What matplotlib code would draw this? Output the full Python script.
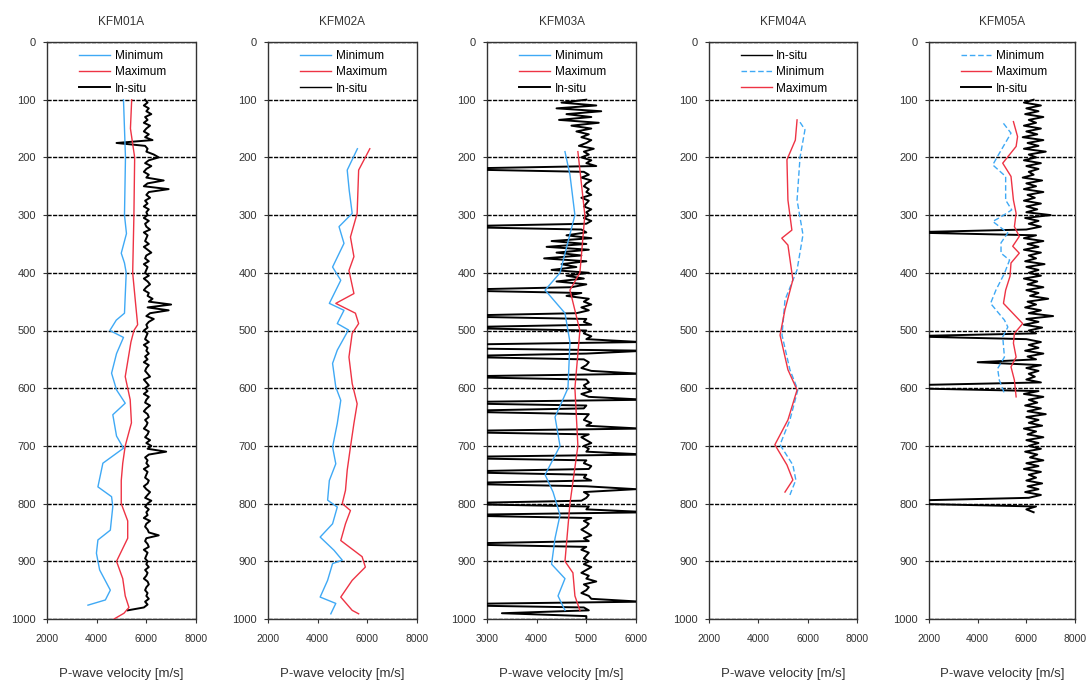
import numpy as np
import matplotlib
matplotlib.use("Agg")
import matplotlib.pyplot as plt

plt.rcParams['font.family'] = ['Liberation Sans', 'DejaVu Sans']

# ---- data ----
titles = ["KFM01A", "KFM02A", "KFM03A", "KFM04A", "KFM05A"]

# KFM01A
k1_min_d = [100, 200, 300, 332, 366, 383, 400, 470, 482, 500, 512, 540, 574, 603, 626, 646,
            683, 704, 730, 771, 788, 805, 846, 863, 886, 915, 950, 967, 976]
k1_min_v = [5080, 5160, 5120, 5200, 4990, 5120, 5190, 5120, 4790, 4530, 5080, 4800, 4600, 4800,
            5150, 4650, 4800, 5080, 4250, 4050, 4600, 4650, 4550, 4050, 3990, 4120, 4550, 4350, 3650]
k1_max_d = [100, 150, 200, 300, 400, 450, 490, 500, 520, 580, 620, 660, 700, 730, 760, 800,
            830, 860, 900, 930, 960, 980, 990, 1000]
k1_max_v = [5410, 5360, 5530, 5500, 5450, 5560, 5650, 5500, 5380, 5150, 5350, 5400, 5150, 5050,
            4990, 4990, 5250, 5250, 4800, 5050, 5150, 5300, 5100, 4700]
k1_ins_v = [5950, 6050, 5900, 6100, 6000, 6200, 5950, 6050, 5900, 6150,
            6000, 5900, 6100, 5950, 6250, 4800, 5950, 6050, 6000, 6300,
            6500, 6100, 5950, 6200, 6000, 5900, 6100, 6000, 6700, 6050,
            5900, 6900, 6100, 6000, 6150, 5950, 6050, 5900, 6100, 6000,
            6050, 5900, 6100, 5950, 6000, 6150, 5900, 6050, 6000, 5950,
            6100, 5900, 6050, 6200, 6000, 5950, 6100, 5900, 6050, 6000,
            5950, 6100, 5900, 6050, 6150, 6000, 5900, 6100, 6050, 6250,
            6100, 7000, 6050, 6900, 6150, 6000, 6300, 6100, 6000, 6050,
            5900, 6050, 6000, 5950, 6100, 5900, 6050, 6000, 6100, 5950,
            6050, 5900, 6100, 6000, 5950, 6050, 6150, 5900, 6000, 6100,
            5950, 6050, 5900, 6100, 6000, 5950, 6150, 6000, 5900, 6050,
            6100, 5950, 6050, 6000, 5900, 6100, 6050, 5950, 6150, 6000,
            6200, 6050, 6800, 6100, 5950, 6050, 6000, 6100, 5900, 6050,
            6000, 5950, 6100, 6050, 5900, 6000, 6150, 6050, 5950, 6200,
            6050, 5950, 6100, 6000, 6050, 5900, 6150, 6000, 5950, 6050,
            6100, 6500, 6000, 5950, 6050, 6100, 5900, 6050, 6000, 5950,
            6050, 6000, 6100, 5950, 6050, 6000, 5900, 6050, 6100, 6000,
            5950, 6050, 6000, 6100, 5950, 6050, 5900, 5250]

# KFM02A
k2_min_d = [185, 222, 257, 297, 320, 349, 390, 413, 453, 465, 488, 499, 534, 557, 598, 621,
            661, 702, 731, 760, 794, 806, 835, 858, 881, 898, 904, 933, 962, 973, 991]
k2_min_v = [5600, 5190, 5270, 5390, 4860, 5060, 4600, 4930, 4470, 5060, 4790, 5240, 4790, 4600,
            4730, 4930, 4790, 4600, 4730, 4470, 4400, 4790, 4600, 4100, 4660, 4990, 4600, 4400,
            4100, 4730, 4530]
k2_max_d = [185, 222, 297, 338, 372, 396, 436, 453, 470, 488, 505, 546, 592, 627, 661, 702,
            742, 777, 800, 812, 835, 864, 892, 910, 933, 962, 985, 991]
k2_max_v = [6100, 5650, 5590, 5320, 5460, 5260, 5460, 4730, 5520, 5650, 5390, 5260, 5390, 5590,
            5460, 5320, 5190, 5120, 4990, 5320, 5120, 4930, 5790, 5920, 5390, 4930, 5390, 5650]

# KFM03A
k3_min_d = [190, 230, 300, 400, 430, 470, 520, 600, 650, 700, 750, 780, 820, 860, 905, 930, 960, 985]
k3_min_v = [4570, 4670, 4770, 4470, 4170, 4570, 4670, 4630, 4370, 4470, 4170, 4330, 4470,
            4370, 4300, 4570, 4430, 4570]
k3_max_d = [190, 300, 400, 430, 500, 600, 700, 800, 900, 920, 960, 985]
k3_max_v = [4830, 4970, 4870, 4670, 4870, 4770, 4830, 4670, 4570, 4730, 4770, 4870]
k3_ins_v = [5000, 4500, 5200, 4400, 5300, 4600, 5100, 4450, 5250, 4700,
            5100, 4800, 5050, 4900, 5100, 5000, 4850, 5150, 4950, 5050,
            4900, 5100, 5000, 5200, 2000, 4950, 5050, 4900, 5100, 5000,
            4950, 5050, 5000, 5100, 4900, 5050, 5000, 4950, 5100, 5000,
            5050, 4950, 5100, 5000, 2000, 4900, 5000, 4600, 5100, 4300,
            5000, 4200, 5050, 4400, 4900, 4150, 5000, 4500, 4800, 4300,
            5050, 4600, 4950, 4400, 5000, 4700, 2000, 4900, 4600, 5050,
            4950, 5100, 4900, 5050, 4800, 2000, 5000, 4950, 5100, 2000,
            5000, 4950, 5100, 5000, 6100, 2000, 1500, 6200, 5000, 2000,
            4950, 5050, 5000, 4900, 5100, 6100, 2000, 5000, 5050, 4950,
            5000, 5100, 4900, 5050, 6200, 1500, 5000, 4950, 2000, 5050,
            5000, 4950, 5100, 5000, 6100, 1500, 5050, 4900, 5000, 5100,
            4950, 5050, 5000, 6200, 1500, 5000, 4950, 5100, 5050, 2000,
            5000, 4950, 5100, 2000, 5000, 6000, 4950, 5050, 5000, 4900,
            2000, 5050, 5000, 6300, 2000, 5100, 4950, 5050, 5000, 4900,
            5000, 5100, 4950, 5050, 2000, 5000, 4900, 5050, 5000, 4950,
            5050, 4950, 5100, 5000, 4900, 5050, 5000, 5200, 4950, 5050,
            5000, 4900, 5050, 5100, 6100, 1500, 4950, 5050, 3300, 5000,
            5000]

# KFM04A
k4_min_d = [139, 152, 200, 274, 334, 395, 447, 508, 568, 603, 655, 698, 733, 759, 785]
k4_min_v = [5690, 5890, 5690, 5570, 5810, 5570, 5080, 4960, 5280, 5600, 5280, 4880, 5400, 5520, 5280]
k4_max_d = [135, 170, 204, 274, 326, 340, 352, 412, 464, 508, 568, 603, 655, 698, 733, 759, 780]
k4_max_v = [5570, 5500, 5160, 5200, 5360, 4950, 5200, 5400, 5080, 4880, 5200, 5570, 5200, 4670,
            5160, 5400, 5080]

# KFM05A
k5_min_d = [141, 158, 198, 213, 233, 274, 291, 303, 311, 331, 348, 366, 378, 401, 430, 453,
            482, 494, 511, 546, 566, 586, 609]
k5_min_v = [5060, 5370, 4820, 4620, 5150, 5150, 5400, 4960, 4620, 5240, 4960, 4960, 5310, 5100,
            4750, 4530, 5100, 5240, 5030, 5100, 4820, 4890, 5100]
k5_max_d = [138, 164, 181, 210, 233, 274, 297, 320, 337, 354, 366, 383, 406, 430, 453, 488,
            505, 522, 546, 563, 586, 615]
k5_max_v = [5470, 5640, 5580, 5030, 5370, 5470, 5580, 5510, 5710, 5440, 5710, 5370, 5330, 5150,
            5060, 5850, 5510, 5470, 5580, 5370, 5510, 5580]
k5_ins_v = [6300, 5900, 6600, 6000, 6500, 5950, 6700, 6100, 6400, 5900,
            6600, 6000, 6450, 5850, 6700, 6050, 6500, 5900, 6800, 6100,
            6400, 5900, 6600, 6000, 6500, 6100, 6300, 5850, 6650, 6000,
            6400, 5900, 6700, 6050, 6350, 5900, 6600, 6000, 6450, 6000,
            7000, 5950, 6500, 6100, 6600, 6000, 1000, 6400, 5900, 6700,
            6050, 6500, 5900, 6600, 6100, 6400, 5950, 6750, 6000, 6500,
            6100, 6600, 5900, 6450, 6050, 6700, 6000, 6500, 6150, 6900,
            6050, 6400, 5950, 6600, 6100, 7100, 6000, 6500, 5900, 6650,
            6100, 6400, 1000, 6000, 6600, 6100, 6500, 5950, 6700, 6050,
            6400, 4000, 6600, 6000, 6500, 6100, 6350, 6000, 6600, 1000,
            1000, 6500, 5900, 6700, 6100, 6450, 5950, 6600, 6050, 6800,
            6000, 6500, 6100, 6650, 5900, 6400, 6050, 6700, 6000, 6500,
            6100, 6600, 5950, 6450, 6150, 6700, 6000, 6500, 5900, 6600,
            6100, 6400, 6000, 6650, 6050, 6500, 5950, 6600, 6100, 1000,
            1000, 6400, 6000, 6300]

INS_START = 100   # in-situ logs start at 100 m, 5 m sampling
INS_STEP = 5

def ins_depth(vals):
    return INS_START + INS_STEP * np.arange(len(vals))

BLUE = "#3fa9f5"
RED = "#ee3344"
TXT = "#333333"

panels = [
    dict(title=titles[0], xlim=(2000, 8000), xticks=[2000, 4000, 6000, 8000],
         mn=(k1_min_d, k1_min_v), mx=(k1_max_d, k1_max_v), ins=k1_ins_v,
         order=["min", "max", "ins"], dash=False),
    dict(title=titles[1], xlim=(2000, 8000), xticks=[2000, 4000, 6000, 8000],
         mn=(k2_min_d, k2_min_v), mx=(k2_max_d, k2_max_v), ins=None,
         order=["min", "max", "ins"], dash=False),
    dict(title=titles[2], xlim=(3000, 6000), xticks=[3000, 4000, 5000, 6000],
         mn=(k3_min_d, k3_min_v), mx=(k3_max_d, k3_max_v), ins=k3_ins_v,
         order=["min", "max", "ins"], dash=False),
    dict(title=titles[3], xlim=(2000, 8000), xticks=[2000, 4000, 6000, 8000],
         mn=(k4_min_d, k4_min_v), mx=(k4_max_d, k4_max_v), ins=None,
         order=["ins", "min", "max"], dash=True),
    dict(title=titles[4], xlim=(2000, 8000), xticks=[2000, 4000, 6000, 8000],
         mn=(k5_min_d, k5_min_v), mx=(k5_max_d, k5_max_v), ins=k5_ins_v,
         order=["min", "max", "ins"], dash=True),
]

lefts = [47, 268, 487, 709, 929]
widths = [149, 149, 149, 148, 146]
W, H = 1086, 684
fig = plt.figure(figsize=(W / 100, H / 100), dpi=100)

for p, lx, wd in zip(panels, lefts, widths):
    ax = fig.add_axes([lx / W, 1 - 619 / H, wd / W, 577 / H])
    handles = {}
    if p["ins"] is not None:
        h, = ax.plot(p["ins"], ins_depth(p["ins"]), color="black", lw=1.4, zorder=3)
    else:
        h, = ax.plot([], [], color="black", lw=1.0)
    handles["ins"] = (h, "In-situ")
    mls = (0, (4, 2)) if p["dash"] else "-"
    h, = ax.plot(p["mn"][1], p["mn"][0], color=BLUE, lw=1.0, ls=mls, zorder=4)
    handles["min"] = (h, "Minimum")
    h, = ax.plot(p["mx"][1], p["mx"][0], color=RED, lw=1.0, zorder=4)
    handles["max"] = (h, "Maximum")

    ax.set_xlim(*p["xlim"])
    ax.set_ylim(1000, 0)
    ax.set_yticks(range(0, 1001, 100))
    ax.set_xticks(p["xticks"])
    ax.tick_params(axis="y", labelsize=8, colors=TXT, length=3, pad=5)
    ax.tick_params(axis="x", labelsize=7.5, colors=TXT, length=3, pad=8)
    ax.yaxis.grid(True, color="black", ls=(0, (3, 1)), lw=1.0)
    for s in ax.spines.values():
        s.set_linestyle((0, (2, 1)))
        s.set_linewidth(1.0)
        s.set_color(TXT)
    ax.set_title(p["title"], fontsize=8.5, color=TXT, pad=12)
    ax.set_xlabel("P-wave velocity [m/s]", fontsize=9.5, color=TXT, labelpad=17)
    hl = [handles[k] for k in p["order"]]
    ax.legend([x[0] for x in hl], [x[1] for x in hl], loc="upper left",
              bbox_to_anchor=(0.16, 1.0), frameon=False, fontsize=8.5,
              handlelength=2.6, labelspacing=0.35, handletextpad=0.4,
              borderaxespad=0.3)

fig.savefig("out.png", dpi=100)
